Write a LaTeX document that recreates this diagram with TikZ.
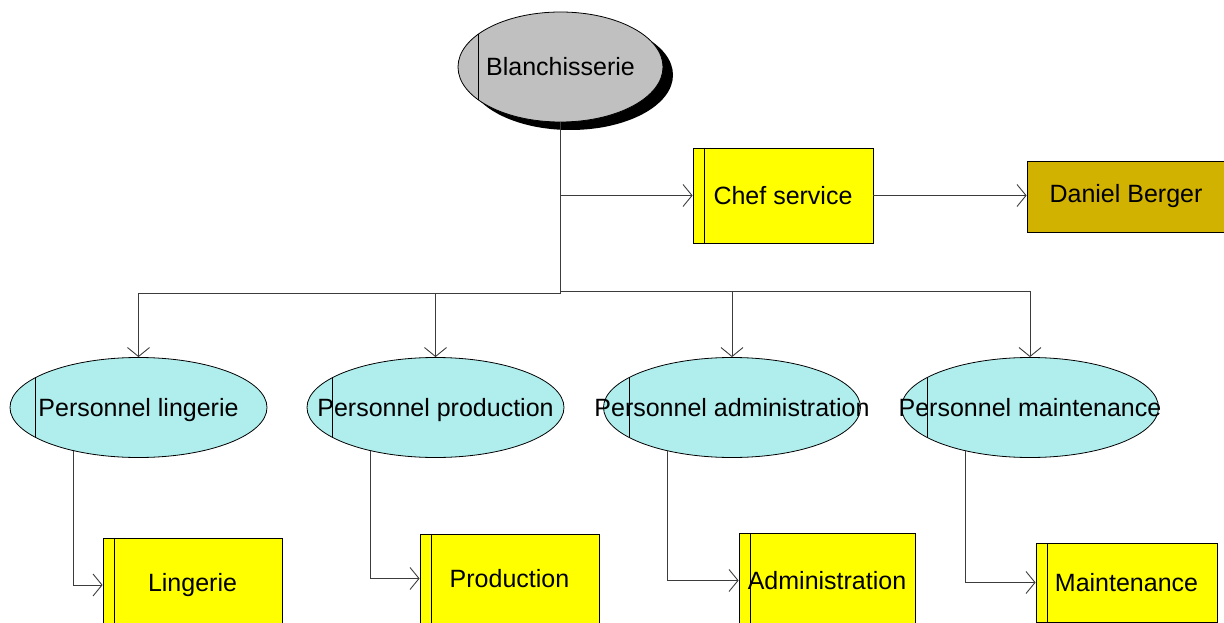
\documentclass[tikz,border=0pt]{standalone}
\usepackage{fontspec}
\setmainfont{Liberation Sans}
\usetikzlibrary{shapes.geometric,arrows.meta,calc,shadows}
\definecolor{grayfill}{RGB}{192,192,192}
\definecolor{cyanfill}{RGB}{176,238,238}
\definecolor{yellowfill}{RGB}{255,255,0}
\definecolor{goldfill}{RGB}{210,178,0}
\definecolor{conn}{RGB}{60,60,60}
\begin{document}
\begin{tikzpicture}[x=1pt,y=-1pt,font=\fontsize{25}{30}\selectfont,
  every label/.style={text height=18pt, text depth=0pt, inner sep=0pt},
  ellline/.style={path picture={\draw[line width=0.8pt]
      ($(path picture bounding box.north west)!0.1!(path picture bounding box.north east)$) --
      ($(path picture bounding box.south west)!0.1!(path picture bounding box.south east)$);}},
  boxline/.style={path picture={\draw[line width=0.8pt]
      ([xshift=11pt]path picture bounding box.north west) --
      ([xshift=11pt]path picture bounding box.south west);}},
  rootell/.style={ellipse, draw=black, line width=0.8pt, inner sep=0pt,
      minimum width=205pt, minimum height=110pt, fill=grayfill, ellline,
      drop shadow={shadow xshift=10pt, shadow yshift=-8pt, fill=black, opacity=1}},
  unitell/.style={ellipse, draw=black, line width=0.8pt, inner sep=0pt,
      minimum width=257pt, minimum height=100pt, fill=cyanfill, ellline},
  yellowbox/.style={rectangle, draw=black, line width=0.8pt, inner sep=0pt,
      fill=yellowfill, boxline},
  goldbox/.style={rectangle, draw=black, line width=0.8pt, inner sep=0pt, fill=goldfill},
  link/.style={draw=conn, line width=0.9pt},
  arr/.style={draw=conn, line width=0.9pt, -{Straight Barb[length=9pt,width=22pt]}}]
\useasboundingbox (0,0) rectangle (1224,623);
\clip (0,0) rectangle (1224,623);

% root
\node[rootell, label={center:Blanchisserie}] (bl) at (560.5,67) {};

% chef and person
\node[yellowbox, minimum width=180pt, minimum height=95pt] (chef) at (783,195.5) {Chef service};
\node[goldbox, minimum width=198pt, minimum height=71pt] (dan) at (1126,196.5) {Daniel Berger};

% personnel ellipses
\node[unitell, label={center:Personnel lingerie}] (pl) at (138.5,407.5) {};
\node[unitell, label={center:Personnel production}] (pp) at (435.5,407.5) {};
\node[unitell, label={center:Personnel administration}] (pa) at (732,407.5) {};
\node[unitell, label={center:Personnel maintenance}] (pm) at (1030,407.5) {};

% bottom boxes
\node[yellowbox, minimum width=179pt, minimum height=94pt] (lb) at (192.5,585) {Lingerie};
\node[yellowbox, minimum width=179pt, minimum height=89pt] (pb) at (509.5,578.5) {Production};
\node[yellowbox, minimum width=176pt, minimum height=95pt] (ab) at (827,580.5) {Administration};
\node[yellowbox, minimum width=181pt, minimum height=79pt] (mb) at (1126.5,582.5) {Maintenance};

% connectors
\coordinate (busL) at (560.5,293);
\coordinate (busR) at (560.5,291);
\draw[link] (bl.south) -- (busL);
\draw[arr] (bl.south |- chef.west) -- (chef.west);
\draw[arr] (chef.east) -- (chef.east -| dan.west);
\draw[arr] (busL) -| (pl.north);
\draw[arr] (busL) -| (pp.north);
\draw[arr] (busR) -| (pa.north);
\draw[arr] (busR) -| (pm.north);
\draw[arr] (pl.214) |- (lb.west);
\draw[arr] (pp.214) |- (pb.west);
\draw[arr] (pa.214) |- (ab.west);
\draw[arr] (pm.214) |- (mb.west);
\end{tikzpicture}
\end{document}
